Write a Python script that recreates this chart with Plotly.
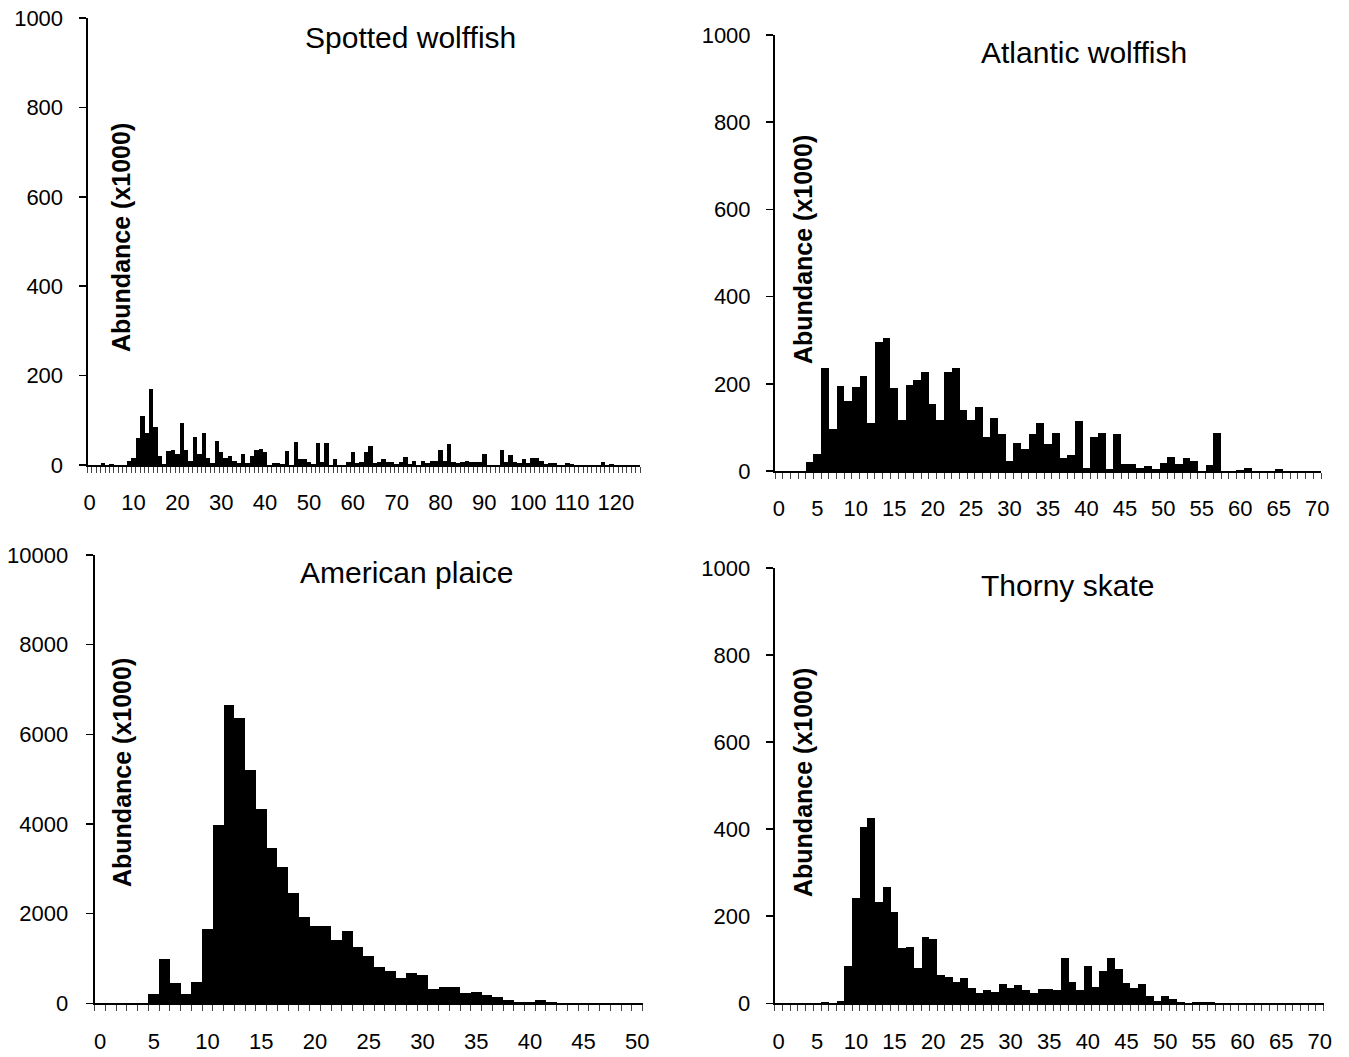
import plotly.graph_objects as go

W, H = 1349, 1057

# ---- data (length class -> abundance x1000) ----
spotted_len = list(range(0, 126))
spotted_abund = [0, 0, 0, 4, 0, 2, 0, 0, 0, 8,
                 15, 60, 109, 72, 169, 86, 20, 2, 31, 34,
                 25, 94, 34, 10, 62, 25, 72, 15, 4, 54,
                 28, 16, 20, 10, 4, 25, 5, 20, 34, 36,
                 28, 1, 5, 5, 2, 31, 1, 52, 13, 13,
                 7, 2, 49, 7, 49, 1, 13, 1, 1, 7,
                 28, 5, 7, 28, 43, 5, 7, 13, 7, 7,
                 2, 7, 18, 2, 10, 1, 10, 5, 10, 10,
                 34, 10, 46, 7, 5, 7, 10, 7, 7, 7,
                 25, 1, 1, 1, 34, 7, 22, 7, 5, 13,
                 5, 16, 16, 10, 2, 5, 5, 1, 1, 5,
                 2, 0, 0, 0, 0, 0, 0, 7, 1, 2,
                 0, 0, 0, 0, 0, 0]

atlantic_len = list(range(0, 71))
atlantic_abund = [0, 0, 0, 0, 20, 38, 237, 97, 195, 160,
                  192, 219, 110, 296, 304, 190, 118, 198, 209, 227,
                  153, 116, 227, 237, 139, 116, 147, 78, 121, 84,
                  24, 65, 50, 86, 110, 63, 88, 29, 36, 114,
                  8, 77, 88, 5, 85, 16, 16, 8, 11, 5,
                  18, 32, 16, 29, 24, 1, 13, 88, 0, 1,
                  3, 8, 0, 0, 0, 5, 0, 0, 0, 0, 0]

plaice_len = list(range(0, 51))
plaice_abund = [0, 0, 0, 0, 0, 200, 978, 444, 200, 481,
                1652, 3985, 6659, 6370, 5200, 4326, 3459, 3044, 2452, 1926,
                1726, 1726, 1422, 1622, 1259, 1052, 815, 711, 570, 681,
                637, 326, 356, 356, 222, 244, 193, 133, 67, 30,
                30, 67, 30, 5, 0, 0, 0, 0, 0, 0, 0]

thorny_len = list(range(0, 71))
thorny_abund = [0, 0, 0, 0, 0, 0, 3, 1, 5, 85,
                242, 404, 425, 232, 268, 210, 126, 129, 82, 153,
                148, 66, 61, 48, 57, 36, 23, 31, 26, 45,
                36, 41, 30, 23, 33, 33, 30, 103, 49, 30,
                85, 38, 74, 103, 79, 47, 35, 44, 17, 6,
                17, 9, 3, 1, 3, 3, 3, 0, 0, 0,
                0, 0, 0, 0, 0, 0, 0, 0, 0, 0, 0]

titles = ["Spotted wolffish", "Atlantic wolffish", "American plaice", "Thorny skate"]
y_title = "Abundance (x1000)"
y_max = [1000, 1000, 10000, 1000]
y_step = [200, 200, 2000, 200]
x_step = [10, 5, 5, 5]

series = [(spotted_len, spotted_abund), (atlantic_len, atlantic_abund),
          (plaice_len, plaice_abund), (thorny_len, thorny_abund)]

# ---- layout geometry (pixels) ----
boxes = [  # left, right, top, bottom
    (87.5, 640.0, 18.0, 465.0),
    (775.0, 1321.0, 35.0, 471.0),
    (94.7, 642.7, 555.0, 1003.3),
    (774.7, 1323.7, 568.0, 1003.3),
]
title_pos = [(410, 38), (1084, 52), (406, 572), (1067, 585)]
ytitle_pos = [(121, 238), (803, 250), (122, 773), (803, 783)]
y_label_standoff = [11, 11, 13, 11]

FONT = "Liberation Sans, Arial, sans-serif"

fig = go.Figure()
layout = dict(
    width=W, height=H, autosize=False,
    margin=dict(l=0, r=0, t=0, b=0, pad=0, autoexpand=False),
    paper_bgcolor="white", plot_bgcolor="white",
    showlegend=False, bargap=0,
    font=dict(family=FONT, color="black", size=20),
    annotations=[],
)

for i, ((xs, ys), box) in enumerate(zip(series, boxes)):
    n = i + 1
    xa = "x" if n == 1 else f"x{n}"
    ya = "y" if n == 1 else f"y{n}"
    fig.add_trace(go.Bar(x=xs, y=ys, xaxis=xa, yaxis=ya,
                         marker=dict(color="black", line=dict(width=0)),
                         width=1.0, hoverinfo="skip"))
    l, r, t, b = box
    xkey = "xaxis" if n == 1 else f"xaxis{n}"
    ykey = "yaxis" if n == 1 else f"yaxis{n}"
    ncat = len(xs)
    layout[xkey] = dict(
        domain=[l / W, r / W], anchor=ya,
        range=[-0.5, ncat - 0.5],
        tickmode="linear", tick0=0, dtick=x_step[i],
        ticks="", showgrid=False, zeroline=False, automargin=False,
        showline=True, linecolor="black", linewidth=2,
        tickfont=dict(size=22, family=FONT),
        ticklabelstandoff=17,
        minor=dict(ticks="outside", tickmode="linear", tick0=-0.5, dtick=1,
                   ticklen=6, tickwidth=1, tickcolor="#444", showgrid=False),
    )
    layout[ykey] = dict(
        domain=[1 - b / H, 1 - t / H], anchor=xa,
        range=[0, y_max[i]],
        tickmode="linear", tick0=0, dtick=y_step[i], tickformat="d",
        ticks="outside", ticklen=7, tickwidth=1.5, tickcolor="black",
        showgrid=False, zeroline=False, automargin=False,
        showline=True, linecolor="black", linewidth=2,
        tickfont=dict(size=22, family=FONT),
        ticklabelstandoff=y_label_standoff[i],
    )
    tx, ty = title_pos[i]
    layout["annotations"].append(dict(
        text=titles[i], x=tx / W, y=1 - ty / H, xref="paper", yref="paper",
        xanchor="center", yanchor="middle", showarrow=False,
        font=dict(size=30, family=FONT, color="black")))
    ax_, ay_ = ytitle_pos[i]
    layout["annotations"].append(dict(
        text="<b>" + y_title + "</b>", x=ax_ / W, y=1 - ay_ / H,
        xref="paper", yref="paper", textangle=-90,
        xanchor="center", yanchor="middle", showarrow=False,
        font=dict(size=25, family=FONT, color="black")))

fig.update_layout(**layout)
fig.write_html("out.html",
               config={"displayModeBar": False, "staticPlot": True},
               post_script="document.body.style.margin='0';"
                           "document.body.style.overflow='hidden';")
